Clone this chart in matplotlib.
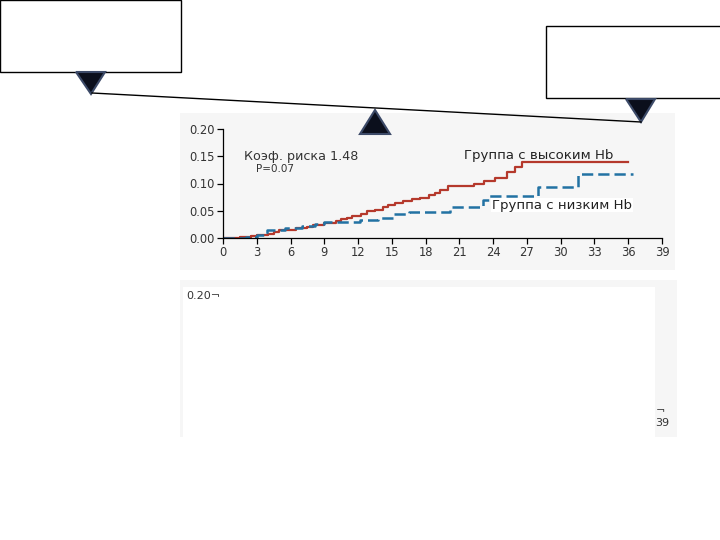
import matplotlib
matplotlib.use("Agg")
import matplotlib.pyplot as plt
from matplotlib.patches import Rectangle, Polygon

# ---- data ----
high_t = [0, 1.5, 2.5, 3.0, 4.0, 4.5, 5.0, 6.5, 7.5, 8.0, 9.0, 10.0, 10.5, 11.0, 11.5,
          12.3, 12.8, 13.5, 14.2, 14.7, 15.3, 16.0, 16.8, 17.5, 18.3, 18.8, 19.3, 20.0,
          22.3, 23.2, 24.2, 25.2, 25.9, 26.6, 36.0]
high_s = [0, 0.001, 0.003, 0.005, 0.007, 0.011, 0.015, 0.018, 0.021, 0.024, 0.028, 0.031,
          0.034, 0.037, 0.041, 0.044, 0.049, 0.052, 0.056, 0.060, 0.064, 0.067, 0.071,
          0.074, 0.078, 0.083, 0.088, 0.096, 0.100, 0.105, 0.111, 0.122, 0.131, 0.140, 0.140]
low_t = [0, 2.0, 3.0, 3.9, 5.5, 7.0, 8.2, 9.0, 12.2, 13.8, 15.1, 16.5, 20.2, 23.1, 23.6,
         28.0, 31.5, 36.4]
low_s = [0, 0.002, 0.005, 0.015, 0.018, 0.022, 0.025, 0.029, 0.033, 0.037, 0.044, 0.048,
         0.056, 0.070, 0.077, 0.094, 0.117, 0.117]
x_ticks = [0, 3, 6, 9, 12, 15, 18, 21, 24, 27, 30, 33, 36, 39]
y_ticks = [0.00, 0.05, 0.10, 0.15, 0.20]
label_high = "Группа с высоким Hb"
label_low = "Группа с низким Hb"
hr_text = "Коэф. риска 1.48"
p_text = "P=0.07"

W, H = 720, 540
fig = plt.figure(figsize=(7.2, 5.4), dpi=100)
fig.patch.set_facecolor("white")

def px_axes(z):
    a = fig.add_axes([0, 0, 1, 1], zorder=z)
    a.set_xlim(0, W)
    a.set_ylim(H, 0)
    a.axis("off")
    a.patch.set_alpha(0)
    return a

# background panels
bg = px_axes(0)
bg.add_patch(Rectangle((180, 113), 495, 157, facecolor="#f6f6f6", edgecolor="none"))
bg.add_patch(Rectangle((180, 280), 497, 157, facecolor="#f6f6f6", edgecolor="none"))
bg.add_patch(Rectangle((183, 287), 472, 150, facecolor="white", edgecolor="none"))

# chart
x0, x1 = 223, 662
y0, y1 = 238, 129
ax = fig.add_axes([x0 / W, 1 - y0 / H, (x1 - x0) / W, (y0 - y1) / H], zorder=1)
ax.patch.set_alpha(0)
ax.step(high_t, high_s, where="post", color="#b5392c", lw=1.6)
ax.step(low_t, low_s, where="post", color="#2272a3", lw=1.8, dashes=(4.5, 2))
ax.set_xlim(0, 39)
ax.set_ylim(0, 0.2)
ax.set_xticks(x_ticks)
ax.set_yticks(y_ticks)
ax.set_yticklabels([f"{v:.2f}" for v in y_ticks])
for s in ["top", "right"]:
    ax.spines[s].set_visible(False)
for s in ["left", "bottom"]:
    ax.spines[s].set_linewidth(0.9)
ax.tick_params(axis="both", labelsize=8.3, colors="black", labelcolor="#333333",
               length=4, width=0.9, pad=2)
ax.text(1.9, 0.150, hr_text, fontsize=9.2, color="#333333", va="center", ha="left")
ax.text(2.9, 0.127, p_text, fontsize=7.5, color="#333333", va="center", ha="left")
ax.text(21.4, 0.152, label_high, fontsize=9.5, color="#222222", va="center", ha="left")
ax.text(23.9, 0.060, label_low, fontsize=9.5, color="#222222", va="center", ha="left",
        bbox=dict(facecolor="white", edgecolor="none", pad=0.5))

# foreground shapes
fg = px_axes(2)
fg.add_patch(Rectangle((0, 0), 181, 72, facecolor="white", edgecolor="black", lw=1))
fg.add_patch(Rectangle((546, 26), 180, 72, facecolor="white", edgecolor="black", lw=1))
fg.plot([92, 641], [93, 122], color="black", lw=1)
tri_fc, tri_ec = "#0b0f1c", "#3c4a68"
fg.add_patch(Polygon([(76, 72), (105, 72), (91, 94)], closed=True,
                     facecolor=tri_fc, edgecolor=tri_ec, lw=1.5))
fg.add_patch(Polygon([(360, 134), (390, 134), (375, 110)], closed=True,
                     facecolor=tri_fc, edgecolor=tri_ec, lw=1.5))
fg.add_patch(Polygon([(626, 99), (655, 99), (641, 122)], closed=True,
                     facecolor=tri_fc, edgecolor=tri_ec, lw=1.5))

# second panel remnants
fg.text(186, 296, "0.20¬", fontsize=8, color="#333333", va="center", ha="left")
fg.text(656, 411, "¬", fontsize=8, color="#333333", va="center", ha="left")
fg.text(655, 423, "39", fontsize=8, color="#333333", va="center", ha="left")

fig.savefig("out.png", dpi=100)
